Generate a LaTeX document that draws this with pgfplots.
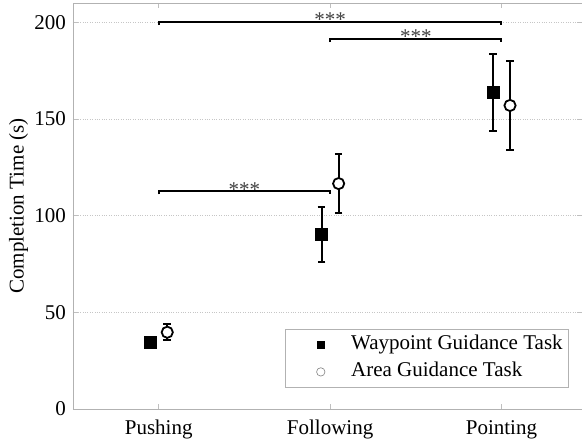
\documentclass[border=0pt]{standalone}
\usepackage{fontspec}
\setmainfont{Liberation Serif}
\usepackage{pgfplots}
\pgfplotsset{compat=1.18}
\begin{document}
\fontsize{21bp}{25bp}\selectfont
\begin{tikzpicture}
\begin{axis}[
  scale only axis, width=509bp, height=406bp,
  xmin=0.5, xmax=3.47, ymin=0, ymax=210,
  xtick={1,2,3}, xticklabels={Pushing,Following,Pointing},
  ytick={0,50,100,150,200},
  /pgf/number format/assume math mode=true,
  tick align=inside, major tick length=5bp,
  axis line style={gray!60, line width=0.8bp},
  tick style={gray!50, line width=0.6bp},
  ymajorgrids, grid style={gray!45, dotted, line width=0.7bp},
  every tick label/.append style={font=\fontsize{21bp}{25bp}\selectfont},
  xticklabel style={yshift=-4bp},
  label style={font=\fontsize{21bp}{25bp}\selectfont},
  ylabel={Completion Time (s)},
  ylabel shift=-8bp,
  legend style={at={(0.9745,0.197)}, anchor=north east, draw=gray!60, line width=0.8bp,
    font=\fontsize{21bp}{25bp}\selectfont, row sep=0bp, inner xsep=5bp, inner ysep=2bp,
    nodes={inner sep=1bp, text height=17bp, text depth=8bp}},
  legend cell align=left,
  legend image code/.code={\path (-30bp,0) (29bp,0); \draw[#1] plot coordinates {(0bp,0bp)};},
]
\addlegendimage{only marks, mark=square*, mark size=3.6bp, black}
\addlegendentry{Waypoint Guidance Task}
\addlegendimage{only marks, mark=o, mark size=4.2bp, gray, line width=0.6bp}
\addlegendentry{Area Guidance Task}

% significance brackets
\addplot[black, line width=2bp, forget plot] coordinates {(1,198.6) (1,200.3) (3,200.3) (3,198.6)};
\addplot[black, line width=2bp, forget plot] coordinates {(2,189.8) (2,191.4) (3,191.4) (3,189.8)};
\addplot[black, line width=2bp, forget plot] coordinates {(1,111) (1,112.6) (2,112.6) (2,111)};
\node[anchor=base, text=black!75, yshift=-5bp] at (axis cs:2,200.3) {***};
\node[anchor=base, text=black!75, yshift=-5bp] at (axis cs:2.5,191.4) {***};
\node[anchor=base, text=black!75, yshift=-5bp] at (axis cs:1.5,112.6) {***};

% Waypoint Guidance Task
\addplot[only marks, mark=square*, mark size=6bp, black, forget plot,
  error bars/.cd, y dir=both, y explicit,
  error bar style={line width=2bp, black, solid},
  error mark options={rotate=90, mark size=3.8bp, line width=2bp, black}]
coordinates {
  (0.95,34.7) +- (0,2.5)
  (1.95,90.2) +- (0,14.4)
  (2.95,163.8) +- (0,19.8)
};
% Area Guidance Task
\addplot[only marks, mark=*, mark size=5.6bp, mark options={fill=white, draw=black, line width=1.8bp}, black, forget plot,
  error bars/.cd, y dir=both, y explicit,
  error bar style={line width=2bp, black, solid},
  error mark options={rotate=90, mark size=3.8bp, line width=2bp, black}]
coordinates {
  (1.05,39.7) +- (0,4.2)
  (2.05,116.6) +- (0,15.3)
  (3.05,157.0) +- (0,22.8)
};
\end{axis}
\pgfresetboundingbox
\path[use as bounding box] ([xshift=-73bp,yshift=-32bp]current axis.south west) rectangle ([yshift=3bp]current axis.north east);
\end{tikzpicture}
\end{document}
